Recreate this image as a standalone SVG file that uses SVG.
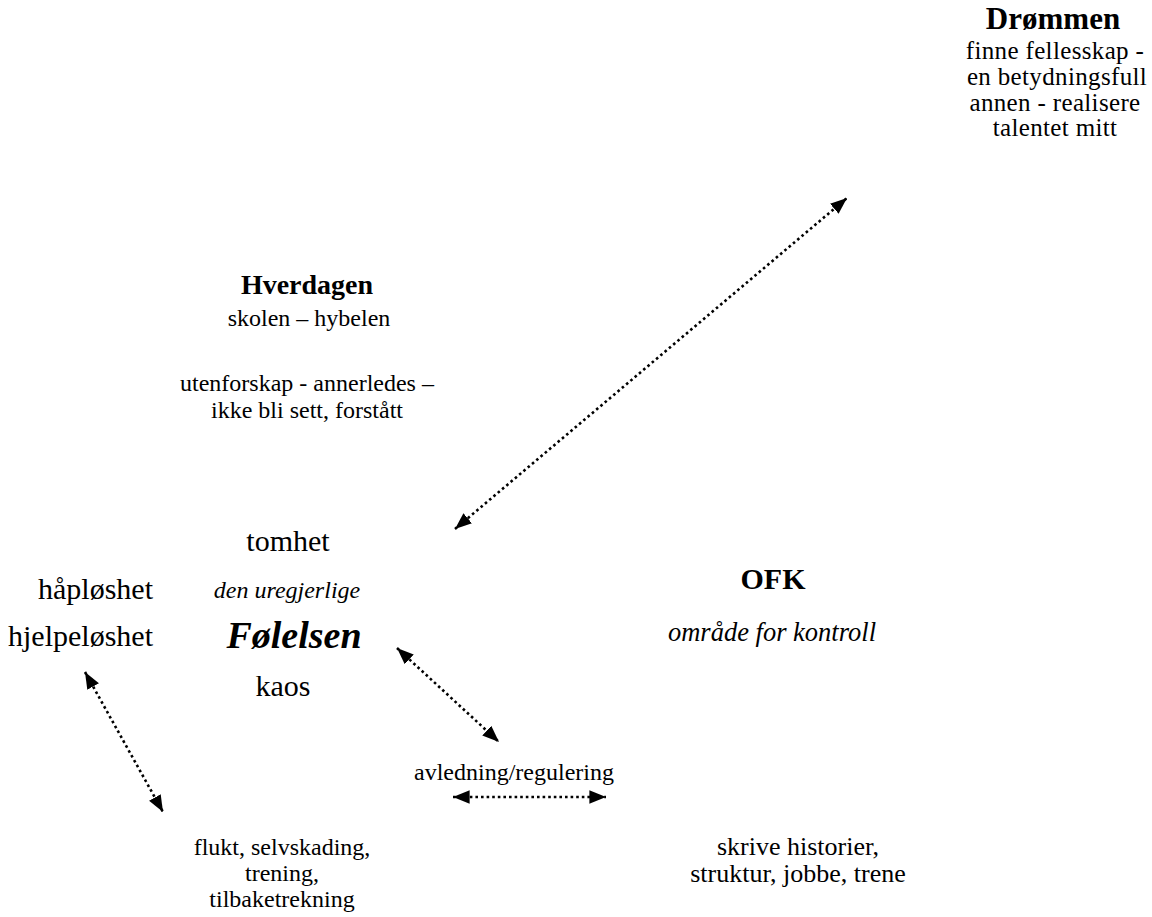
<svg xmlns="http://www.w3.org/2000/svg" width="1152" height="917" viewBox="0 0 1152 917">
<style>
text{font-family:"Liberation Serif","Times New Roman",serif;fill:#000;text-anchor:middle}
.b{font-weight:bold}
.i{font-style:italic}
.t{font-size:24px}
.d{font-size:25px;letter-spacing:0.35px}
.s{font-size:26px}
.w{font-size:30px}
.c{stroke:#000;stroke-width:2.6;stroke-dasharray:2.6 3;fill:none}
</style>
<defs>
<marker id="ah" viewBox="0 0 10 10" refX="10" refY="5" markerWidth="6.4" markerHeight="6.4" markerUnits="strokeWidth" orient="auto-start-reverse">
<path d="M0,1 L10,5 L0,9 z" fill="#000"/>
</marker>
</defs>
<rect width="1152" height="917" fill="#fff"/>
<g id="dream">
<text x="1053" y="29" class="b" style="font-size:31px">Drømmen</text>
<text x="1055" y="59" class="d">finne fellesskap -</text>
<text x="1057" y="85" class="d">en betydningsfull</text>
<text x="1055" y="111" class="d">annen - realisere</text>
<text x="1055" y="136" class="d">talentet mitt</text>
</g>
<g id="hverdagen">
<text x="307" y="294" class="b" style="font-size:28px">Hverdagen</text>
<text x="309" y="326" class="t">skolen – hybelen</text>
<text x="307" y="391" class="t">utenforskap - annerledes –</text>
<text x="307" y="418" class="t">ikke bli sett, forstått</text>
</g>
<g id="folelsen">
<text x="288" y="551" class="w">tomhet</text>
<text x="287" y="598" class="i t">den uregjerlige</text>
<text x="294" y="648" class="b i" style="font-size:38px">Følelsen</text>
<text x="283" y="696" class="w">kaos</text>
</g>
<g id="haploshet">
<text x="153" y="599" class="w" style="text-anchor:end">håpløshet</text>
<text x="153" y="646" class="w" style="text-anchor:end">hjelpeløshet</text>
</g>
<g id="ofk">
<text x="773" y="589" class="b w">OFK</text>
<text x="772" y="641" class="i" style="font-size:26.5px">område for kontroll</text>
</g>
<g id="avledning">
<text x="514" y="780" class="t">avledning/regulering</text>
</g>
<g id="flukt">
<text x="282" y="855" class="t">flukt, selvskading,</text>
<text x="282" y="881" class="t">trening,</text>
<text x="282" y="907" class="t">tilbaketrekning</text>
</g>
<g id="skrive">
<text x="798" y="855" class="s">skrive historier,</text>
<text x="798" y="882" class="s">struktur, jobbe, trene</text>
</g>
<g id="connectors">
<line class="c" x1="455" y1="529" x2="847" y2="198" marker-start="url(#ah)" marker-end="url(#ah)"/>
<line class="c" x1="397" y1="648" x2="499" y2="742" marker-start="url(#ah)" marker-end="url(#ah)"/>
<line class="c" x1="85" y1="672" x2="163" y2="812" marker-start="url(#ah)" marker-end="url(#ah)"/>
<line class="c" x1="453" y1="797" x2="606" y2="797" marker-start="url(#ah)" marker-end="url(#ah)"/>
</g>
</svg>
